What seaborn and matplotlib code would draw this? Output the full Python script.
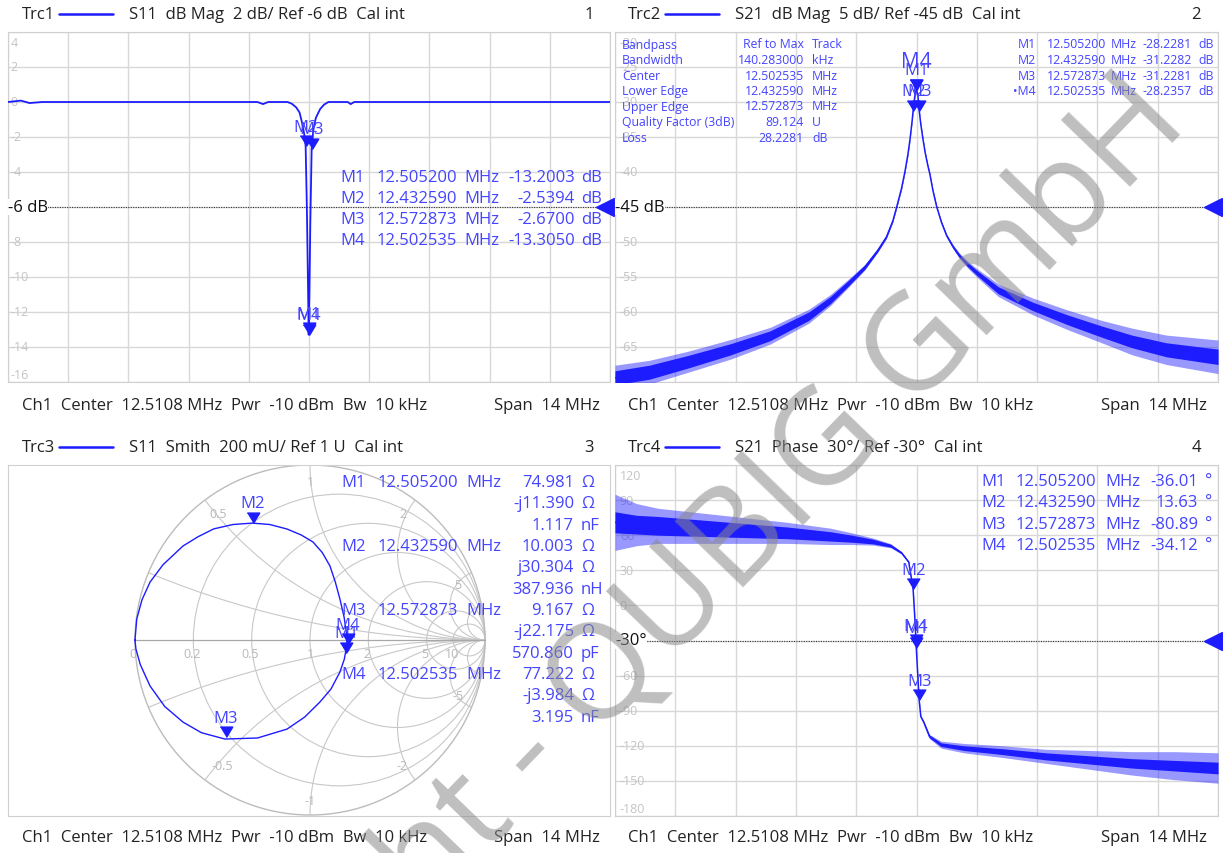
import numpy as np
import matplotlib
matplotlib.use('Agg')
import matplotlib.pyplot as plt
from matplotlib.patches import Circle
from matplotlib.lines import Line2D
import seaborn as sns

sns.set_style('white')
plt.rcParams['font.family'] = ['Open Sans', 'DejaVu Sans']

W, H = 1223, 854
CENTER = 12.5108   # MHz
SPAN = 14.0        # MHz

TRACE = '#1c1cff'
MTEXT = '#4444ff'
GRID = '#d8d8d8'
TICK = '#c4c4c4'
SGRID = '#c8c8c8'
FS = 12
FS_SMALL = 8.8

# ---- Trc1: S11 dB Mag (offset from center in MHz, dB)
s11_off = [-7.0, -6.7, -6.5, -6.2, -1.2, -1.07, -0.95, -0.5, -0.4, -0.3, -0.22, -0.15,
           -0.1, -0.078, -0.05, -0.02, -0.008, 0.01, 0.03, 0.062, 0.1, 0.16, 0.26,
           0.35, 0.45, 0.9, 0.97, 1.05, 7.0]
s11_db = [0.0, 0.08, -0.06, 0.0, 0.0, -0.12, 0.0, 0.0, -0.1, -0.3, -0.6, -1.3,
          -2.0, -2.54, -6.0, -11.0, -13.3, -11.0, -7.0, -2.67, -1.6, -0.9, -0.4,
          -0.15, 0.0, 0.0, -0.12, 0.0, 0.0]

# ---- Trc2: S21 dB Mag, trace plus noise half-widths (dense core / spikes)
s21_off = [-7.0, -6.2, -5.3, -4.3, -3.4, -2.5, -2.0, -1.6, -1.2, -0.9,
           -0.7, -0.55, -0.46, -0.35, -0.27, -0.2, -0.15, -0.1, -0.078, -0.04,
           -0.008, 0.03, 0.062, 0.1, 0.15, 0.2, 0.26, 0.31, 0.38, 0.47,
           0.58, 0.7, 0.85, 1.0, 1.2, 1.4, 1.9, 2.7, 3.5, 4.3,
           5.0, 5.8, 7.0]
s21_db = [-69.4, -68.6, -67.1, -65.3, -63.4, -60.6, -58.3, -56.0, -53.6, -51.2,
          -49.3, -47.0, -45.0, -42.4, -40.0, -37.5, -35.3, -32.6, -31.2, -29.2,
          -28.2, -28.9, -31.2, -33.2, -35.3, -37.2, -39.0, -40.3, -42.6, -45.0,
          -47.2, -49.1, -50.7, -52.0, -53.3, -54.4, -56.9, -59.2, -61.1, -62.8,
          -64.2, -65.4, -66.4]
s21_core = [1.0, 1.0, 0.9, 0.8, 0.7, 0.6, 0.5, 0.4, 0.3, 0.2,
            0.15, 0.1, 0.1, 0.1, 0.1, 0.1, 0.1, 0.1, 0.1, 0.1,
            0.1, 0.1, 0.1, 0.1, 0.1, 0.1, 0.1, 0.1, 0.1, 0.1,
            0.1, 0.15, 0.2, 0.25, 0.3, 0.35, 0.5, 0.6, 0.7, 0.8,
            0.9, 1.0, 1.1]
s21_spike = [1.8, 1.7, 1.5, 1.4, 1.2, 1.0, 0.8, 0.6, 0.4, 0.25,
             0.2, 0.15, 0.1, 0.1, 0.1, 0.1, 0.1, 0.1, 0.1, 0.1,
             0.1, 0.1, 0.1, 0.1, 0.1, 0.1, 0.1, 0.1, 0.1, 0.1,
             0.15, 0.2, 0.3, 0.4, 0.5, 0.6, 0.9, 1.2, 1.4, 1.6,
             1.9, 2.1, 2.4]

# ---- Trc4: S21 Phase (deg), trace plus noise half-widths
ph_off = [-7.0, -6.5, -6.0, -5.0, -4.0, -3.0, -2.0, -1.5, -1.0, -0.6, -0.35, -0.18,
          -0.078, -0.04, -0.008, -0.0056, 0.03, 0.062, 0.1, 0.17, 0.3, 0.57, 1.1, 2.0,
          3.0, 4.0, 5.0, 6.0, 7.0]
ph_deg = [71, 69, 68, 66, 64, 62, 59, 57, 54.5, 51, 45, 37, 13.6, -10, -34.1, -36.0,
          -60, -80.9, -95, -100, -112, -119, -122, -125, -129, -132, -135, -137, -139]
ph_core = [9, 8, 8, 7, 6, 5, 4, 3, 2, 1.2, 0.8, 0.6, 0.5, 0.5, 0.5, 0.5, 0.5, 0.5,
           0.5, 0.8, 1.2, 1.5, 2, 2.5, 3, 3.5, 4, 4.5, 5]
ph_spike = [24, 18, 15, 13, 11, 9, 7, 5, 3, 1.8, 1.0, 0.7, 0.5, 0.5, 0.5, 0.5, 0.5,
            0.5, 0.5, 1.0, 1.8, 3, 4, 5, 6, 8, 10, 12, 13]

# ---- Trc3: S11 Smith chart (reflection coefficient)
sm_re = [-1.0, -0.99, -0.96, -0.914, -0.84, -0.726, -0.64, -0.55, -0.44, -0.33, -0.23,
         -0.131, -0.05, 0.017, 0.07, 0.114, 0.145, 0.171, 0.195, 0.211, 0.21, 0.196,
         0.171, 0.12, 0.057, -0.03, -0.131, -0.30, -0.486, -0.62, -0.726, -0.83,
         -0.914, -0.97, -0.995, -1.0]
sm_im = [0.0, 0.12, 0.23, 0.331, 0.43, 0.537, 0.59, 0.635, 0.66, 0.668, 0.66, 0.634,
         0.6, 0.56, 0.50, 0.423, 0.33, 0.234, 0.13, 0.02, -0.034, -0.11, -0.183, -0.28,
         -0.354, -0.44, -0.509, -0.56, -0.566, -0.53, -0.469, -0.38, -0.263, -0.14,
         -0.05, 0.0]

# ---- markers
mk_names = ['M1', 'M2', 'M3', 'M4']
mk_freq = [12.505200, 12.432590, 12.572873, 12.502535]
mk_s11 = [-13.2003, -2.5394, -2.6700, -13.3050]
mk_s21 = [-28.2281, -31.2282, -31.2281, -28.2357]
mk_phase = [-36.01, 13.63, -80.89, -34.12]
mk_r = [74.981, 10.003, 9.167, 77.222]
mk_x = [-11.390, 30.304, -22.175, -3.984]
mk_lc = ['1.117 nF', '387.936 nH', '570.860 pF', '3.195 nF']

bp_labels = ['Bandpass', 'Bandwidth', 'Center', 'Lower Edge', 'Upper Edge',
             'Quality Factor (3dB)', 'Loss']
bp_values = ['Ref to Max', '140.283000', '12.502535', '12.432590', '12.572873',
             '89.124', '28.2281']
bp_units = ['Track', 'kHz', 'MHz', 'MHz', 'MHz', 'U', 'dB']

fig = plt.figure(figsize=(W / 100, H / 100), dpi=100)
fig.patch.set_facecolor('white')


def px_axes(x0, y0, x1, y1):
    return fig.add_axes([x0 / W, 1 - y1 / H, (x1 - x0) / W, (y1 - y0) / H])


def ftext(x, y, s, **kw):
    kw.setdefault('va', 'center')
    fig.text(x / W, 1 - y / H, s, **kw)


def header(x0, num_x, y, trc, desc, num):
    ftext(x0, y, trc, fontsize=FS, color='#222222')
    fig.add_artist(Line2D([(x0 + 37) / W, (x0 + 91) / W], [1 - y / H] * 2,
                          color=TRACE, lw=1.8, transform=fig.transFigure))
    ftext(x0 + 107, y, desc, fontsize=FS, color='#222222')
    ftext(num_x, y, num, fontsize=FS, color='#222222', ha='right')


def footer(x0, x1, y):
    ftext(x0, y, 'Ch1  Center  12.5108 MHz  Pwr  -10 dBm  Bw  10 kHz',
          fontsize=FS, color='#222222')
    ftext(x1, y, 'Span  14 MHz', fontsize=FS, color='#222222', ha='right')


TIP = [(-0.6, 1.0), (0.6, 1.0), (0.0, 0.0)]


def tip_marker(ax, x, y, label, dy=14, size=FS):
    ax.plot([x], [y], marker=TIP, ms=15, color=TRACE, ls='none', zorder=6)
    ax.annotate(label, (x, y), xytext=(0, dy), textcoords='offset points',
                ha='center', va='center', fontsize=size, color=MTEXT, zorder=6)


def setup_cart(ax, top, bottom, lx=0.008):
    ticks = np.linspace(top, bottom, 11)
    ax.set_xlim(CENTER - SPAN / 2, CENTER + SPAN / 2)
    ax.set_ylim(bottom, top)
    ax.set_xticks(np.linspace(CENTER - SPAN / 2, CENTER + SPAN / 2, 11))
    ax.set_yticks(ticks)
    ax.grid(True, color=GRID, lw=1)
    ax.tick_params(length=0, labelleft=False, labelbottom=False)
    for sp in ax.spines.values():
        sp.set_color('#d0d0d0')
    tr = ax.get_yaxis_transform()
    for i, v in enumerate(ticks):
        if i == 0:
            va, dy = 'top', -3
        elif i == len(ticks) - 1:
            va, dy = 'bottom', 1
        else:
            va, dy = 'center', 0
        ax.annotate(f'{v:g}', (lx, v), xycoords=tr, xytext=(0, dy),
                    textcoords='offset points', ha='left', va=va,
                    fontsize=9, color=TICK, zorder=1)


def ref_line(ax, ref, text):
    tr = ax.get_yaxis_transform()
    ax.axhline(ref, color='#333333', ls=(0, (1, 1.2)), lw=0.8, zorder=2)
    ax.text(0.0, ref, text, transform=tr, ha='left', va='center', fontsize=FS,
            color='#111111', zorder=3,
            bbox=dict(fc='white', ec='none', pad=0.3))
    ax.plot([0.992], [ref], marker='<', ms=13, color=TRACE, transform=tr,
            clip_on=False, zorder=7)


def noisy_trace(ax, off, val, core, spike):
    f = [CENTER + o for o in off]
    v = np.array(val, dtype=float)
    ax.fill_between(f, v - np.array(spike), v + np.array(spike), color=TRACE,
                    alpha=0.45, lw=0, zorder=4)
    ax.fill_between(f, v - np.array(core), v + np.array(core), color=TRACE,
                    lw=0, zorder=4)
    sns.lineplot(x=f, y=val, ax=ax, color=TRACE, lw=1.1, sort=False,
                 estimator=None, zorder=4)


# ================= Trc1 =================
ax1 = px_axes(8, 33, 610, 383)
setup_cart(ax1, 4, -16, lx=0.004)
sns.lineplot(x=[CENTER + o for o in s11_off], y=s11_db, ax=ax1, color=TRACE,
             lw=1.3, sort=False, estimator=None, zorder=4)
ref_line(ax1, -6, '-6 dB')
for n, f, v in zip(mk_names, mk_freq, mk_s11):
    tip_marker(ax1, f, v, n)
for i, (n, f, v) in enumerate(zip(mk_names, mk_freq, mk_s11)):
    y = 178 + i * 21
    ftext(340, y, n, fontsize=FS, color=MTEXT)
    ftext(457, y, f'{f:.6f}', fontsize=FS, color=MTEXT, ha='right')
    ftext(464, y, 'MHz', fontsize=FS, color=MTEXT)
    ftext(575, y, f'{v:.4f}', fontsize=FS, color=MTEXT, ha='right')
    ftext(581, y, 'dB', fontsize=FS, color=MTEXT)
header(22, 594, 15, 'Trc1', 'S11  dB Mag  2 dB/ Ref -6 dB  Cal int', '1')
footer(22, 600, 406)

# ================= Trc2 =================
ax2 = px_axes(615, 33, 1218, 383)
setup_cart(ax2, -20, -70)
noisy_trace(ax2, s21_off, s21_db, s21_core, s21_spike)
ref_line(ax2, -45, '-45 dB')
for n, f, v in zip(mk_names, mk_freq, mk_s21):
    if n == 'M4':
        tip_marker(ax2, f, v, n, dy=20, size=15)
    else:
        tip_marker(ax2, f, v, n)
for i, (lab, val, unit) in enumerate(zip(bp_labels, bp_values, bp_units)):
    y = 45 + i * 15.5
    ftext(622, y, lab, fontsize=FS_SMALL, color=MTEXT)
    ftext(804, y, val, fontsize=FS_SMALL, color=MTEXT, ha='right')
    ftext(812, y, unit, fontsize=FS_SMALL, color=MTEXT)
for i, (n, f, v) in enumerate(zip(mk_names, mk_freq, mk_s21)):
    y = 45 + i * 15.5
    ftext(1036, y, ('\u2022' + n) if n == 'M4' else n, fontsize=FS_SMALL,
          color=MTEXT, ha='right')
    ftext(1106, y, f'{f:.6f}', fontsize=FS_SMALL, color=MTEXT, ha='right')
    ftext(1111, y, 'MHz', fontsize=FS_SMALL, color=MTEXT)
    ftext(1192, y, f'{v:.4f}', fontsize=FS_SMALL, color=MTEXT, ha='right')
    ftext(1198, y, 'dB', fontsize=FS_SMALL, color=MTEXT)
header(628, 1201, 15, 'Trc2', 'S21  dB Mag  5 dB/ Ref -45 dB  Cal int', '2')
footer(628, 1207, 406)

# ================= Trc3 (Smith) =================
ax3 = px_axes(8, 466, 610, 817)
ax3.set_xlim((8 - 310) / 175, (610 - 310) / 175)
ax3.set_ylim((641 - 817) / 175, (641 - 466) / 175)
ax3.set_xticks([])
ax3.set_yticks([])
for sp in ax3.spines.values():
    sp.set_color('#d0d0d0')
clip = Circle((0, 0), 1, transform=ax3.transData, fc='none', ec='none')
ax3.add_patch(clip)
for r in [0.2, 0.5, 1, 2, 5, 10]:
    ax3.add_patch(Circle((r / (1 + r), 0), 1 / (1 + r), fill=False, ec=SGRID, lw=0.8))
for xv in [0.2, 0.5, 1, 2, 5, 10]:
    for s in (1, -1):
        c = Circle((1, s / xv), 1 / xv, fill=False, ec=SGRID, lw=0.8)
        ax3.add_patch(c)
        c.set_clip_path(clip)
ax3.add_patch(Circle((0, 0), 1, fill=False, ec='#bcbcbc', lw=1.0))
ax3.plot([-1, 1], [0, 0], color='#a8a8a8', lw=0.9)
smith_labels = [('0', 133, 655), ('0.2', 192, 655), ('0.5', 250, 655), ('1', 310, 655),
                ('2', 367, 655), ('5', 425, 655), ('10', 452, 655),
                ('1', 310, 483), ('0.5', 218, 515), ('2', 403, 515), ('5', 458, 586),
                ('-0.5', 222, 767), ('-2', 402, 767), ('-1', 310, 802), ('-5', 458, 697)]
for s, px, py in smith_labels:
    ax3.text((px - 310) / 175, (641 - py) / 175, s, ha='center', va='center',
             fontsize=9, color='#b8b8b8', zorder=2)
sns.lineplot(x=sm_re, y=sm_im, ax=ax3, color=TRACE, lw=1.0, sort=False,
             estimator=None, zorder=4)
for n, r, x in zip(mk_names, mk_r, mk_x):
    g = (complex(r, x) - 50) / (complex(r, x) + 50)
    tip_marker(ax3, g.real, g.imag, n)
for i, (n, f, r, x, lc) in enumerate(zip(mk_names, mk_freq, mk_r, mk_x, mk_lc)):
    y0 = 483 + i * 64
    ftext(341, y0, n, fontsize=FS, color=MTEXT)
    ftext(458, y0, f'{f:.6f}', fontsize=FS, color=MTEXT, ha='right')
    ftext(466, y0, 'MHz', fontsize=FS, color=MTEXT)
    xs = ('-j' if x < 0 else 'j') + f'{abs(x):.3f}'
    num, unit = lc.split()
    for k, (v, u) in enumerate([(f'{r:.3f}', '\u03a9'), (xs, '\u03a9'), (num, unit)]):
        ftext(574, y0 + k * 21.3, v, fontsize=FS, color=MTEXT, ha='right')
        ftext(581, y0 + k * 21.3, u, fontsize=FS, color=MTEXT)
header(22, 594, 448, 'Trc3', 'S11  Smith  200 mU/ Ref 1 U  Cal int', '3')
footer(22, 600, 838)

# ================= Trc4 =================
ax4 = px_axes(615, 466, 1218, 817)
setup_cart(ax4, 120, -180)
noisy_trace(ax4, ph_off, ph_deg, ph_core, ph_spike)
ref_line(ax4, -30, '-30\u00b0')
for n, f, v in zip(mk_names, mk_freq, mk_phase):
    tip_marker(ax4, f, v, n)
for i, (n, f, v) in enumerate(zip(mk_names, mk_freq, mk_phase)):
    y = 482 + i * 21.3
    ftext(981, y, n, fontsize=FS, color=MTEXT)
    ftext(1096, y, f'{f:.6f}', fontsize=FS, color=MTEXT, ha='right')
    ftext(1105, y, 'MHz', fontsize=FS, color=MTEXT)
    ftext(1198, y, f'{v:.2f}', fontsize=FS, color=MTEXT, ha='right')
    ftext(1205, y, '\u00b0', fontsize=FS, color=MTEXT)
header(628, 1201, 448, 'Trc4', 'S21  Phase  30\u00b0/ Ref -30\u00b0  Cal int', '4')
footer(628, 1207, 838)

# watermark
fig.text(619 / W, 1 - 666 / H, 'Copyright - QUBIG GmbH', rotation=46,
         rotation_mode='anchor', ha='center', va='center', fontsize=96,
         color='#8a8a8a', alpha=0.55, zorder=20)

fig.savefig('out.png', dpi=100, facecolor='white')
